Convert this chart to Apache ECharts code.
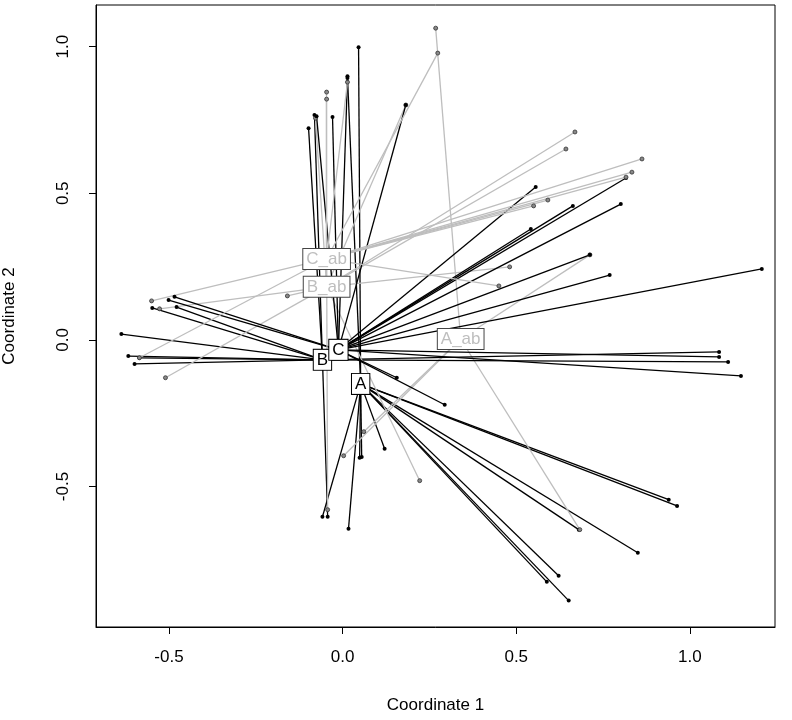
<!DOCTYPE html>
<html>
<head>
<meta charset="utf-8">
<script src="https://cdn.jsdelivr.net/npm/echarts@6/dist/echarts.min.js"></script>
<style>
  html, body { margin: 0; padding: 0; background: #fff; }
  #chart { width: 792px; height: 720px; }
</style>
</head>
<body>
<div id="chart"></div>
<script>
// group names, in drawing order
var groups = ["A", "A_ab", "B", "B_ab", "C", "C_ab"];
var groupColors = ["#000000", "#bebebe", "#000000", "#bebebe", "#000000", "#bebebe"];

// centroids (label positions)
var centX = [0.052, 0.340, -0.058, -0.046, -0.012, -0.046];
var centY = [-0.150, 0.003, -0.068, 0.181, -0.034, 0.276];

// site scores per group
var aX = [0.046, 0.014, -0.058, 0.939, 0.963, 0.850, 0.622, 0.588, 0.651, 0.680, 0.121, 0.055, 0.049, 0.017];
var aY = [0.998, 0.899, -0.603, -0.545, -0.566, -0.726, -0.804, -0.825, -0.889, -0.647, -0.371, -0.399, -0.402, -0.644];

var aabX = [0.268, 0.683, 0.712, 0.003, 0.061];
var aabY = [1.063, -0.647, 0.290, -0.395, -0.313];

var bX = [-0.637, -0.617, -0.599, -0.585, -0.548, -0.478, 1.084, 1.110, -0.098, -0.081, -0.043];
var bY = [0.020, -0.055, -0.082, -0.061, 0.109, 0.112, -0.041, -0.075, 0.722, 0.767, -0.603];

var babX = [-0.046, 0.182, 0.669, 0.643, 0.481, -0.159, -0.527, 0.222, -0.510, -0.078];
var babY = [0.821, 0.801, 0.709, 0.651, 0.249, 0.150, 0.106, -0.480, -0.129, 0.756];

var cX = [-0.501, -0.484, -0.075, -0.029, 0.014, 0.556, 0.801, 0.663, 0.542, 0.769, 1.207, 0.712, 0.816, 1.084, 1.147, 0.156, 0.294, 0.182];
var cY = [0.136, 0.147, 0.763, 0.760, 0.893, 0.521, 0.463, 0.457, 0.378, 0.221, 0.242, 0.290, 0.552, -0.058, -0.123, -0.129, -0.221, 0.801];

var cabX = [-0.046, 0.274, 0.862, 0.833, 0.816, 0.591, 0.550, 0.450, -0.550, -0.585, -0.043, 0.014];
var cabY = [0.845, 0.978, 0.617, 0.572, 0.555, 0.477, 0.457, 0.184, 0.133, -0.061, -0.579, 0.879];

var ptsX = [aX, aabX, bX, babX, cX, cabX];
var ptsY = [aY, aabY, bY, babY, cY, cabY];

var tickValues = [-0.5, 0, 0.5, 1.0];
var fontFam = "Liberation Sans, Arial, Helvetica, sans-serif";

var series = [];
for (var g = 0; g < groups.length; g++) {
  var spokes = [];
  var dots = [];
  for (var i = 0; i < ptsX[g].length; i++) {
    spokes.push({coords: [[centX[g], centY[g]], [ptsX[g][i], ptsY[g][i]]]});
    dots.push([ptsX[g][i], ptsY[g][i]]);
  }
  var isGray = groupColors[g] !== "#000000";
  series.push({
    type: "lines",
    coordinateSystem: "cartesian2d",
    data: spokes,
    silent: true,
    z: 2,
    lineStyle: {color: groupColors[g], width: 1.3, opacity: 1, curveness: 0}
  });
  series.push({
    type: "scatter",
    data: dots,
    symbol: "circle",
    symbolSize: 4,
    silent: true,
    z: 3,
    itemStyle: isGray ? {color: "#888888", borderColor: "#333333", borderWidth: 0.8, opacity: 1} : {color: "#000000", opacity: 1}
  });
}

// centroid labels on top of everything
for (var k = 0; k < groups.length; k++) {
  var gray = groupColors[k] !== "#000000";
  series.push({
    type: "scatter",
    data: [[centX[k], centY[k]]],
    symbolSize: 0,
    silent: true,
    zlevel: 1,
    z: 10,
    itemStyle: {opacity: 1},
    label: {
      show: true,
      position: "inside",
      formatter: groups[k],
      color: gray ? "#bebebe" : "#000000",
      opacity: 1,
      fontFamily: fontFam,
      fontSize: 17,
      backgroundColor: "#ffffff",
      borderColor: gray ? "#444444" : "#000000",
      borderWidth: 1,
      padding: [2, 3, 1, 3]
    }
  });
}

var chart = echarts.init(document.getElementById("chart"));
chart.setOption({
  animation: false,
  backgroundColor: "#ffffff",
  grid: {
    left: 96, right: 17, top: 5, bottom: 93,
    outerBoundsMode: "none",
    containLabel: false,
    show: true, borderColor: "#000000", borderWidth: 1
  },
  xAxis: {
    type: "value",
    min: -0.71,
    max: 1.245,
    name: "Coordinate 1",
    nameLocation: "middle",
    nameGap: 70,
    nameTextStyle: {fontFamily: fontFam, fontSize: 17, color: "#000"},
    axisLine: {show: true, onZero: false, lineStyle: {color: "#000", width: 1}},
    axisTick: {show: true, length: 7, inside: false, customValues: tickValues, lineStyle: {color: "#000"}},
    axisLabel: {
      customValues: tickValues,
      margin: 22,
      fontFamily: fontFam,
      fontSize: 17,
      color: "#000",
      formatter: function (v) { return v.toFixed(1); }
    },
    splitLine: {show: false}
  },
  yAxis: {
    type: "value",
    min: -0.979,
    max: 1.142,
    name: "Coordinate 2",
    nameLocation: "middle",
    nameGap: 78,
    nameTextStyle: {fontFamily: fontFam, fontSize: 17, color: "#000"},
    axisLine: {show: true, onZero: false, lineStyle: {color: "#000", width: 1}},
    axisTick: {show: true, length: 7, inside: false, customValues: tickValues, lineStyle: {color: "#000"}},
    axisLabel: {
      customValues: tickValues,
      rotate: 90,
      margin: 24,
      fontFamily: fontFam,
      fontSize: 17,
      color: "#000",
      formatter: function (v) { return v.toFixed(1); }
    },
    splitLine: {show: false}
  },
  series: series
});
</script>
</body>
</html>
